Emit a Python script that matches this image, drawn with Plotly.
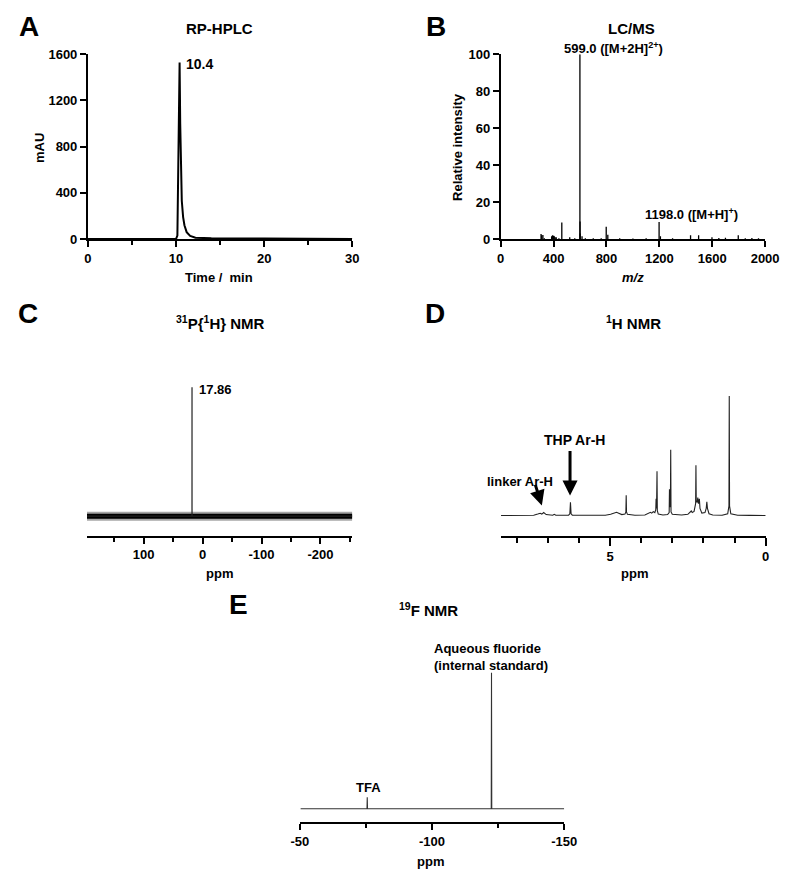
import plotly.graph_objects as go

# ---------------- data ----------------
# A: RP-HPLC chromatogram
hplc_time = [0, 5, 10.0, 10.15, 10.25, 10.32, 10.40, 10.47, 10.55, 10.65, 10.8, 10.95, 11.2, 11.6, 12.2, 14, 20, 27.5, 28, 30]
hplc_mau = [0, 0, 2, 30, 500, 1200, 1530, 1000, 600, 330, 190, 120, 60, 28, 12, 6, 5, 4, 0, 0]

# B: LC/MS spectrum (stick list)
ms_mz = [305, 310, 319, 330, 385, 392, 400, 405, 412, 420, 440, 462, 522, 560, 599, 600, 601, 615,
         640, 700, 760, 798, 810, 900, 1000, 1100, 1198, 1208, 1300, 1436, 1497, 1598, 1650, 1700,
         1797, 1850, 1900, 1950]
ms_int = [2.7, 2.0, 2.2, 0.5, 1.5, 2.0, 1.8, 1.5, 1.0, 1.0, 0.5, 8.9, 1.0, 0.5, 100, 9.5, 3.0, 1.5,
          0.5, 0.4, 0.5, 6.7, 2.3, 0.4, 0.3, 0.4, 9.2, 1.5, 0.5, 2.1, 2.1, 1.0, 0.6, 0.7,
          2.0, 0.5, 0.6, 0.4]

# C: 31P{1H} NMR
p_ppm = [196, 17.9, 17.86, 17.8, -254]
p_int = [0, 0, 100, 0, 0]

# D: 1H NMR
h_ppm = [8.5, 7.45, 7.32, 7.24, 7.19, 7.13, 7.05, 6.95, 6.84, 6.79, 6.74, 6.33, 6.29, 6.27, 6.25, 6.21,
         5.15, 4.98, 4.88, 4.79, 4.72, 4.62, 4.52, 4.49, 4.48, 4.47, 4.44, 4.2, 3.88, 3.80, 3.75, 3.70,
         3.66, 3.61, 3.56, 3.53, 3.52, 3.505, 3.49, 3.48, 3.45, 3.3, 3.15, 3.10, 3.09, 3.075, 3.06, 3.05,
         3.04, 3.0, 2.7, 2.5, 2.42, 2.39, 2.36, 2.3, 2.25, 2.24, 2.23, 2.2, 2.18, 2.16, 2.13, 2.11, 2.05,
         1.95, 1.91, 1.89, 1.87, 1.82, 1.7, 1.4, 1.22, 1.18, 1.17, 1.16, 1.12, 0.9, 0.5, 0.0]
h_int = [0, 0.2, 1.2, 1.9, 1.2, 2.5, 0.8, 0.3, 0.2, 1.0, 0.2, 0.3, 1.5, 11, 1.5, 0.3,
         0.3, 1.0, 2.0, 2.7, 2.0, 0.8, 1.2, 3.0, 17, 3.0, 1.0, 0.3, 0.5, 1.5, 1.5, 2.7,
         2.0, 3.3, 2.5, 5.0, 14, 6.0, 37, 4.0, 1.2, 0.5, 0.8, 2.5, 22, 7.0, 10, 55,
         3.0, 1.0, 0.4, 1.0, 2.5, 3.8, 2.5, 3.5, 10, 42, 12, 11, 15, 10, 14, 6.0, 2.0,
         2.5, 6.0, 11.5, 6.0, 1.5, 0.5, 0.3, 1.5, 8.0, 100, 8.0, 1.5, 0.3, 0.1, 0]

# E: 19F NMR
f_ppm = [-50.3, -75.4, -75.5, -75.6, -122.4, -122.5, -122.6, -150]
f_int = [0, 0, 8.5, 0, 0, 100, 0, 0]

# tick labels
a_xticks = [0, 10, 20, 30]
a_yticks = [0, 400, 800, 1200, 1600]
b_xticks = [0, 400, 800, 1200, 1600, 2000]
b_yticks = [0, 20, 40, 60, 80, 100]
c_xticks = [100, 0, -100, -200]
c_xticklabels = ["100", "0", "-100", "-200"]
d_xticks = [5, 0]
e_xticks = [-50, -100, -150]
e_xticklabels = ["-50", "-100", "-150"]

# ---------------- helpers ----------------
# The page body keeps its default 8px margin, so the figure is sized to fill
# exactly the 800x884 window and coordinates are measured in window pixels.
PAGE_W, PAGE_H, OFF = 800, 884, 8
W, H = PAGE_W - 2 * OFF, PAGE_H - 2 * OFF
FONT = "Arial, 'Liberation Sans', sans-serif"


def px(x):
    return (x - OFF) / W


def py(y):
    return 1 - (y - OFF) / H


def sticks(xs, ys):
    sx, sy = [], []
    for a, b in zip(xs, ys):
        sx += [a, a, None]
        sy += [0, b, None]
    return sx, sy


tickfont = dict(family=FONT, size=13, color="black", weight="bold")


def xax(dom, rng, anchor, **kw):
    d = dict(domain=[px(dom[0]), px(dom[1])], range=rng, anchor=anchor, showgrid=False,
             zeroline=False, showline=True, linecolor="black", linewidth=2, ticks="outside",
             ticklen=6, tickwidth=2, tickcolor="black", tickfont=tickfont, fixedrange=True)
    d.update(kw)
    return d


def yax(dom, rng, anchor, visible=True, **kw):
    d = dict(domain=[py(dom[0]), py(dom[1])], range=rng, anchor=anchor, showgrid=False,
             zeroline=False, fixedrange=True)
    if visible:
        d.update(showline=True, linecolor="black", linewidth=2, ticks="outside", ticklen=6,
                 tickwidth=2, tickcolor="black", tickfont=tickfont)
    else:
        d.update(visible=False)
    d.update(kw)
    return d


def minor(vals, ln=4):
    return dict(tickvals=vals, ticks="outside", ticklen=ln, tickwidth=2, tickcolor="black")


fig = go.Figure()

fig.add_trace(go.Scatter(x=hplc_time, y=hplc_mau, mode="lines",
                         line=dict(color="black", width=2), xaxis="x", yaxis="y"))
bx, by = sticks(ms_mz, ms_int)
fig.add_trace(go.Scatter(x=bx, y=by, mode="lines", line=dict(color="black", width=1.3),
                         xaxis="x2", yaxis="y2"))
# C: noisy baseline shown as a dark band with a softer ragged edge
fig.add_trace(go.Scatter(x=[p_ppm[0], p_ppm[-1]], y=[0, 0], mode="lines",
                         line=dict(color="rgba(0,0,0,0.35)", width=9), xaxis="x3", yaxis="y3"))
fig.add_trace(go.Scatter(x=[p_ppm[0], p_ppm[-1]], y=[0, 0], mode="lines",
                         line=dict(color="black", width=5), xaxis="x3", yaxis="y3"))
fig.add_trace(go.Scatter(x=p_ppm, y=p_int, mode="lines", line=dict(color="#222", width=1.2),
                         xaxis="x3", yaxis="y3"))
fig.add_trace(go.Scatter(x=h_ppm, y=h_int, mode="lines", line=dict(color="#222", width=1.1),
                         xaxis="x4", yaxis="y4"))
fig.add_trace(go.Scatter(x=f_ppm, y=f_int, mode="lines", line=dict(color="#333", width=1.1),
                         xaxis="x5", yaxis="y5"))

annotations = []


def ann(text, cx, cy, size=13, **kw):
    d = dict(text=text, x=px(cx), y=py(cy), xref="paper", yref="paper", showarrow=False,
             xanchor="center", yanchor="middle",
             font=dict(family=FONT, size=size, color="black", weight="bold"))
    d.update(kw)
    annotations.append(d)


for letter, cx, cy in [("A", 20, 20), ("B", 439, 20), ("C", 19, 312), ("D", 438, 312), ("E", 236, 608)]:
    ann(letter, cx, cy, size=28)

ann("RP-HPLC", 216, 22, size=15)
ann("LC/MS", 640, 22, size=15)
ann("<sup>31</sup>P{<sup>1</sup>H} NMR", 217, 321, size=15)
ann("<sup>1</sup>H NMR", 642, 321, size=15)
ann("<sup>19</sup>F NMR", 431, 613, size=15)

ann("mAU", 31, 143, size=13, textangle=-90)
ann("Time /  min", 216, 275, size=13)
ann("Relative intensity", 461, 142, size=13, textangle=-90)
ann("<i>m/z</i>", 642, 275, size=13)
ann("ppm", 216, 576, size=13)
ann("ppm", 643, 576, size=13)
ann("ppm", 433, 869, size=13)

ann("10.4", 196, 58, size=14)
ann("599.0 ([M+2H]<sup>2+</sup>)", 622, 42, size=13)
ann("1198.0 ([M+H]<sup>+</sup>)", 702, 210, size=13)
ann("17.86", 212, 389, size=13)
ann("THP Ar-H", 582, 440, size=14)
ann("linker Ar-H", 526, 483, size=13)
ann("TFA", 370, 794, size=13)
ann("Aqueous fluoride<br>(internal standard)", 435, 661, size=13, xanchor="left", align="left")

for tipx, tipy, dx, dy in [(577, 497, 0, -46), (548, 507, -7, -22)]:
    annotations.append(dict(text="", x=px(tipx), y=py(tipy), xref="paper", yref="paper",
                            showarrow=True, ax=dx, ay=dy, arrowhead=2, arrowsize=1,
                            arrowwidth=3, arrowcolor="black"))

fig.update_layout(
    width=W, height=H, margin=dict(l=0, r=0, t=0, b=0),
    paper_bgcolor="white", plot_bgcolor="white", showlegend=False,
    font=dict(family=FONT, color="black"),
    annotations=annotations,
    xaxis=xax((81, 353), [0, 30], "y", tickvals=a_xticks, minor=minor([5, 15, 25])),
    yaxis=yax((236, 48), [0, 1600], "x", tickvals=a_yticks),
    xaxis2=xax((505.7, 777.7), [0, 2000], "y2", tickvals=b_xticks),
    yaxis2=yax((236, 48), [0, 100], "x2", tickvals=b_yticks),
    xaxis3=xax((80, 353), [196, -254], "y3", tickvals=c_xticks, ticktext=c_xticklabels,
               minor=minor([150, 50, -50, -150, -250])),
    yaxis3=yax((538, 378), [-15.2, 106.6], "x3", visible=False),
    xaxis4=xax((506, 778.3), [8.5, 0], "y4", tickvals=d_xticks, ticklen=8,
               minor=minor([8, 7, 6, 4, 3, 2, 1], 5)),
    yaxis4=yax((538, 378), [-17.0, 114.6], "x4", visible=False),
    xaxis5=xax((299, 571), [-50, -150], "y5", tickvals=e_xticks, ticktext=e_xticklabels,
               minor=minor([-75, -125])),
    yaxis5=yax((829.3, 670), [-9.83, 105.3], "x5", visible=False),
)

fig.write_html("out.html", config={"displayModeBar": False})
